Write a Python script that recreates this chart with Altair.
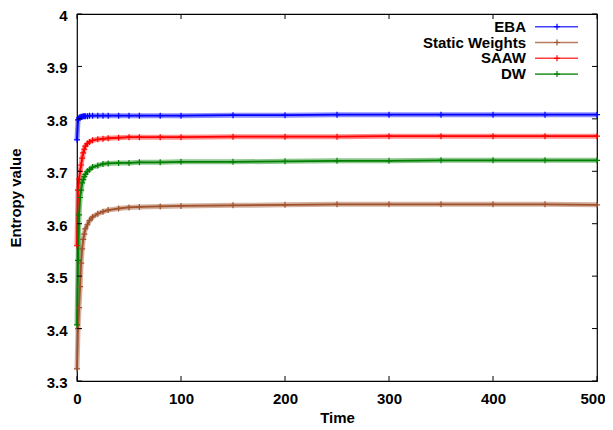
import altair as alt
import pandas as pd

times = [0, 1, 2, 3, 4, 5, 6, 7, 8, 10, 12, 15, 20, 25, 30, 40, 50, 60, 80, 100,
         150, 200, 250, 300, 350, 400, 450, 500]

eba = [3.760, 3.798, 3.802, 3.803, 3.804, 3.804, 3.805, 3.805, 3.805, 3.805, 3.806, 3.806,
       3.806, 3.806, 3.806, 3.806, 3.806, 3.806, 3.806, 3.806, 3.807, 3.807, 3.808, 3.808,
       3.808, 3.808, 3.808, 3.808]
static_w = [3.323, 3.400, 3.440, 3.480, 3.525, 3.552, 3.570, 3.580, 3.590, 3.598, 3.606,
            3.613, 3.619, 3.623, 3.626, 3.629, 3.631, 3.632, 3.633, 3.634, 3.635, 3.636,
            3.637, 3.637, 3.637, 3.637, 3.637, 3.636]
saaw = [3.558, 3.664, 3.685, 3.700, 3.712, 3.725, 3.735, 3.742, 3.748, 3.753, 3.756, 3.759,
        3.761, 3.762, 3.763, 3.764, 3.765, 3.765, 3.765, 3.765, 3.766, 3.766, 3.766, 3.767,
        3.767, 3.767, 3.767, 3.767]
dw = [3.407, 3.530, 3.617, 3.650, 3.664, 3.678, 3.684, 3.690, 3.694, 3.700, 3.703, 3.708,
      3.711, 3.714, 3.715, 3.716, 3.716, 3.717, 3.717, 3.718, 3.718, 3.719, 3.720, 3.720,
      3.721, 3.721, 3.721, 3.721]

series_names = ["EBA", "Static Weights", "SAAW", "DW"]
series_colors = ["#0000ff", "#a0522d", "#ff0000", "#008000"]
series_values = [eba, static_w, saaw, dw]

x_ticks = [0, 100, 200, 300, 400, 500]
y_ticks = [3.3, 3.4, 3.5, 3.6, 3.7, 3.8, 3.9, 4.0]

rows = []
for name, vals in zip(series_names, series_values):
    for t, v in zip(times, vals):
        rows.append({"Time": t, "Entropy": v, "Series": name})
df = pd.DataFrame(rows)

W, H = 520, 367
FONT = "Liberation Sans"
FS = 15
TICK = 5

color = alt.Color("Series:N", scale=alt.Scale(domain=series_names, range=series_colors),
                  legend=None)
xs = alt.Scale(domain=[0, 500], nice=False)
ys = alt.Scale(domain=[3.3, 4.0], nice=False, zero=False)

xenc = alt.X("Time:Q", scale=xs,
             axis=alt.Axis(values=x_ticks, title="Time", tickSize=0, labelPadding=10,
                           labelAlign=alt.condition("datum.value == 500",
                                                    alt.value("right"), alt.value("center")),
                           labelOffset=alt.condition("datum.value == 500",
                                                     alt.value(8), alt.value(0)),
                           titleX=W / 2, titleY=41, titleBaseline="alphabetic",
                           domain=False, grid=False, format="d"))
yenc = alt.Y("Entropy:Q", scale=ys,
             axis=alt.Axis(values=y_ticks, title="Entropy value", tickSize=0, labelPadding=10,
                           labelOffset=1.5,
                           titleX=-56.5, titleY=H / 2, titleBaseline="alphabetic",
                           domain=False, grid=False, format=".1~f"))

base = alt.Chart(df).encode(x=xenc, y=yenc, color=color, detail="Series:N")
band = base.mark_line(strokeWidth=5, opacity=0.45)
core = base.mark_line(strokeWidth=1.8)
plus_path = "M-1,0H1M0,-1V1"
marks = base.mark_point(shape=plus_path, size=36, strokeWidth=1.2, filled=False, opacity=1)

xt = pd.DataFrame({"t": x_ticks})
yt = pd.DataFrame({"v": y_ticks})
tick_x_bottom = alt.Chart(xt).mark_rule(color="black", strokeWidth=1).encode(
    x=alt.X("t:Q", scale=xs), y=alt.value(H), y2=alt.value(H - TICK))
tick_x_top = alt.Chart(xt).mark_rule(color="black", strokeWidth=1).encode(
    x=alt.X("t:Q", scale=xs), y=alt.value(0), y2=alt.value(TICK))
tick_y_left = alt.Chart(yt).mark_rule(color="black", strokeWidth=1).encode(
    y=alt.Y("v:Q", scale=ys), x=alt.value(0), x2=alt.value(TICK))
tick_y_right = alt.Chart(yt).mark_rule(color="black", strokeWidth=1).encode(
    y=alt.Y("v:Q", scale=ys), x=alt.value(W), x2=alt.value(W - TICK))

# legend (top right, labels right-aligned, sample line to the right)
leg = pd.DataFrame({"Series": series_names, "i": list(range(len(series_names)))})
leg_base = alt.Chart(leg).transform_calculate(ly="12.7 + 15.8 * datum.i")
leg_y = alt.Y("ly:Q", scale=None)
leg_color = alt.Color("Series:N", scale=alt.Scale(domain=series_names, range=series_colors),
                      legend=None)
leg_text = leg_base.mark_text(align="right", baseline="middle", font=FONT, fontSize=FS,
                              fontWeight="bold", color="black").encode(
    x=alt.value(449), y=leg_y, text="Series:N")
leg_line = leg_base.mark_rule(strokeWidth=1.6, opacity=0.75).encode(
    x=alt.value(458), x2=alt.value(501), y=leg_y, color=leg_color)
leg_mark = leg_base.mark_point(shape=plus_path, size=36, strokeWidth=1.2, filled=False,
                               opacity=1).encode(x=alt.value(480), y=leg_y, color=leg_color)

chart = alt.layer(
    band, core, marks,
    tick_x_bottom, tick_x_top, tick_y_left, tick_y_right,
    leg_line, leg_mark, leg_text,
).properties(
    width=W, height=H,
    padding={"left": 69, "top": 6, "right": 8, "bottom": 45},
    autosize=alt.AutoSizeParams(type="none"),
).configure_view(
    stroke="black", strokeWidth=1.2
).configure_axis(
    labelFont=FONT, labelFontSize=FS, labelFontWeight="bold", labelColor="black",
    titleFont=FONT, titleFontSize=FS, titleFontWeight="bold", titleColor="black",
    labelFlush=False,
)

chart.save("out.html", embed_options={"renderer": "svg", "actions": False})
